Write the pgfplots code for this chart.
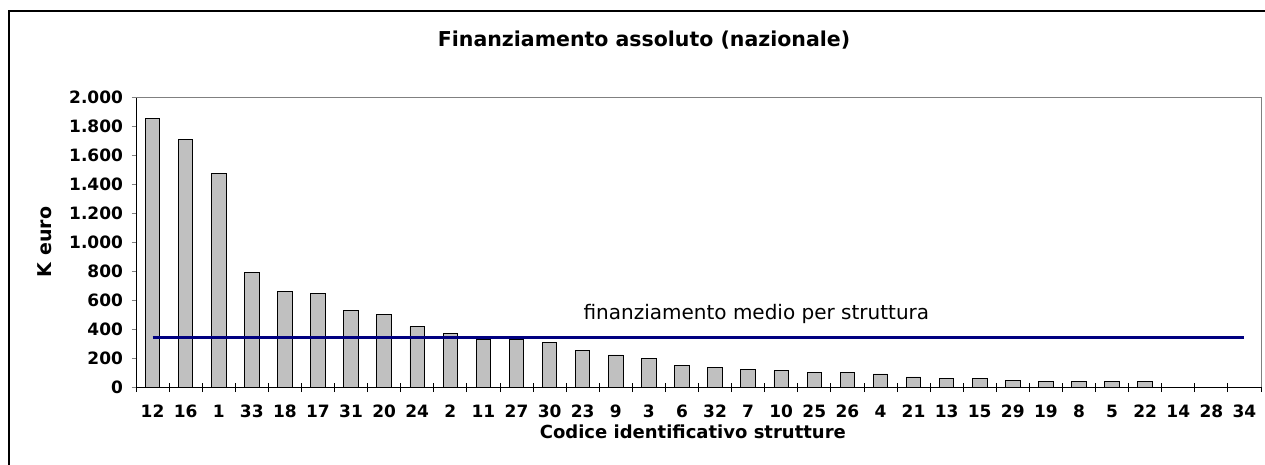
\documentclass[border=0pt]{standalone}
\usepackage{fontspec}
\setmainfont{DejaVu Sans}
\usepackage{pgfplots}
\pgfplotsset{compat=1.18}
\definecolor{bargray}{RGB}{192,192,192}
\definecolor{navyline}{RGB}{0,0,128}
\begin{document}
\begin{tikzpicture}[x=1pt,y=1pt]
\path[use as bounding box] (0,0) rectangle (1265,464);
\draw[line width=2pt] (8.5,-5) -- (8.5,452.5) -- (1270,452.5);
\begin{axis}[
  at={(136pt,77pt)}, anchor=south west,
  scale only axis, width=1125pt, height=290pt,
  xmin=-0.5, xmax=33.5, ymin=0, ymax=2000,
  axis lines=left, axis line style={-, line width=0.9pt},
  ytick={0,200,...,2000},
  yticklabel style={font=\bfseries\fontsize{17}{17}\selectfont, xshift=-5pt},
  /pgf/number format/.cd, 1000 sep={.}, assume math mode=true, /pgfplots/.cd,
  xtick={0,...,33},
  xticklabels={12,16,1,33,18,17,31,20,24,2,11,27,30,23,9,3,6,32,7,10,25,26,4,21,13,15,29,19,8,5,22,14,28,34},
  xticklabel style={font=\bfseries\fontsize{17}{17}\selectfont, yshift=-10pt},
  major x tick style={draw=none},
  minor xtick={-0.5,0.5,...,33.5},
  minor tick length=9.5pt,
  minor x tick style={draw=black, yshift=4.5pt, line width=0.8pt},
  tick align=outside, major tick length=4.5pt,
  ytick style={line width=0.8pt},
  ylabel={K euro},
  ylabel style={font=\bfseries\fontsize{19}{19}\selectfont, at={(axis description cs:-0.081,0.5)}, anchor=center},
  xlabel={Codice identificativo strutture},
  xlabel style={font=\bfseries\fontsize{18}{18}\selectfont, at={(axis description cs:0.495,-0.155)}, anchor=center},
  title={Finanziamento assoluto (nazionale)},
  title style={font=\bfseries\fontsize{20.5}{20.5}\selectfont, at={(axis description cs:0.4516,1.175)}, anchor=center},
  clip=false,
]
\draw[gray, line width=0.9pt] (rel axis cs:0,1) -- (rel axis cs:1,1) -- (rel axis cs:1,0);
\addplot[ybar, bar width=14.5pt, fill=bargray, draw=black, line width=0.9pt] coordinates {
(0,1850) (1,1710) (2,1470) (3,790) (4,657) (5,647) (6,526) (7,503) (8,416) (9,366)
(10,331) (11,331) (12,310) (13,255) (14,221) (15,197) (16,147) (17,136) (18,124) (19,112)
(20,101) (21,101) (22,90) (23,69) (24,57) (25,57) (26,48) (27,37) (28,37) (29,37) (30,37)
};
\addplot[navyline, line width=2.8pt] coordinates {(0,342) (33,342)};
\node[font=\fontsize{20}{20}\selectfont] at (axis cs:18.25,505) {finanziamento medio per struttura};
\end{axis}
\end{tikzpicture}
\end{document}
